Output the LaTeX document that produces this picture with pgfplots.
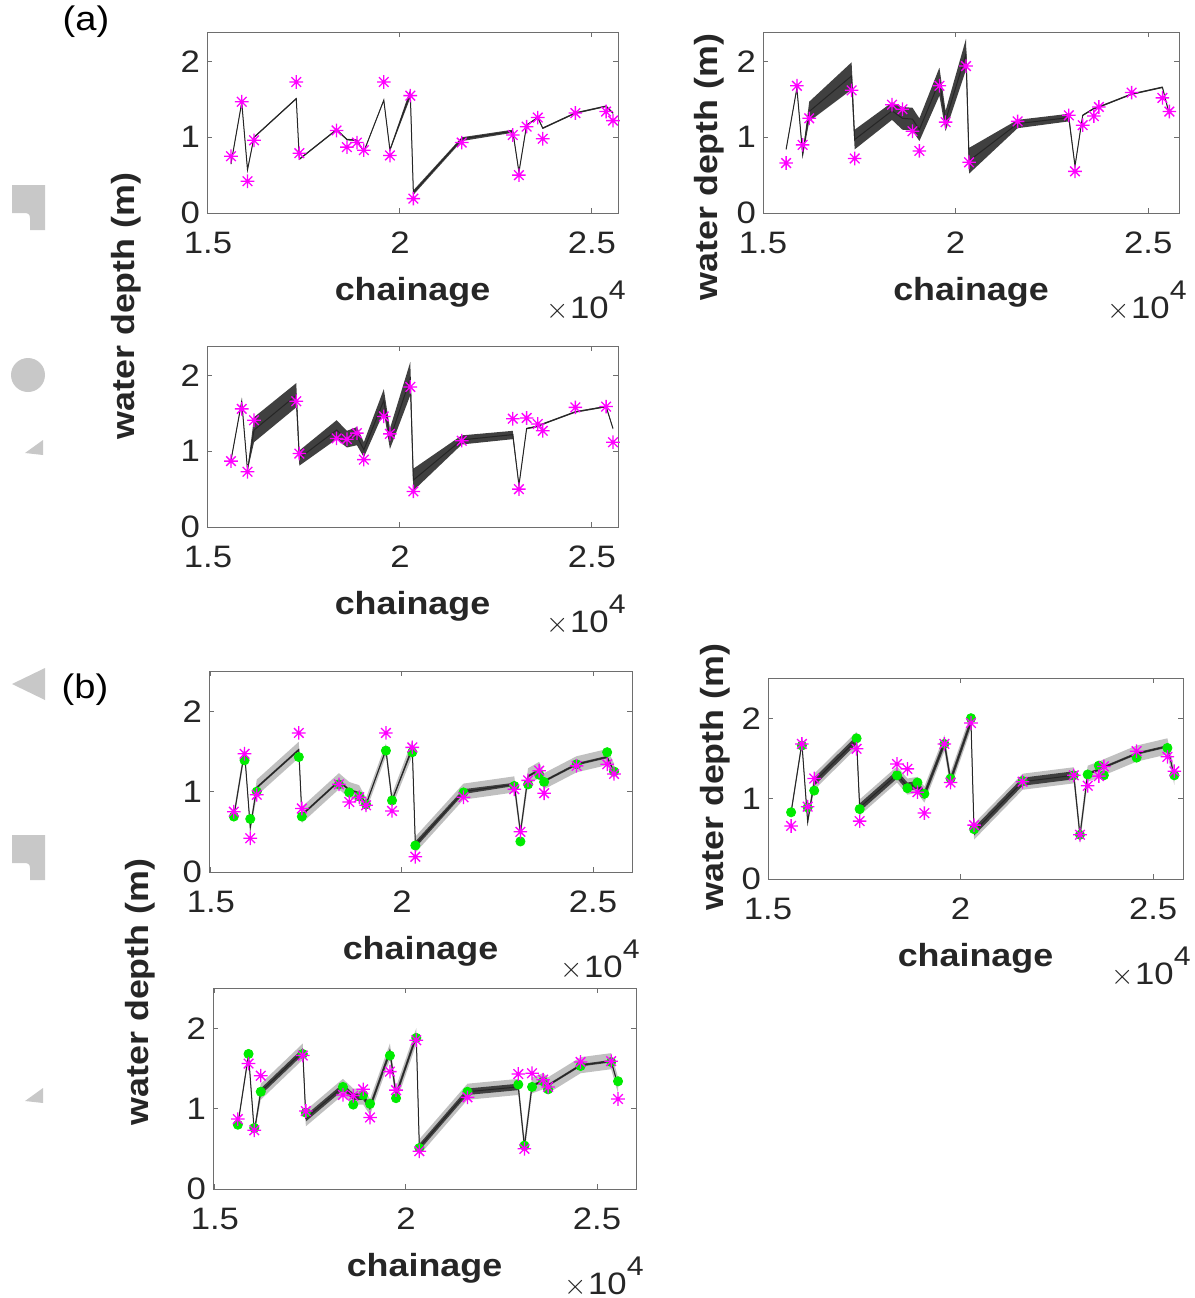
\documentclass[border=0pt]{standalone}
\usepackage{fontspec}
\setmainfont{Liberation Sans}[FakeStretch=1.12]
\usepackage{pgfplots}
\pgfplotsset{compat=1.18}
\usepackage{pgfplotstable}
\usepgfplotslibrary{fillbetween}

\definecolor{mag}{RGB}{255,0,255}
\definecolor{grn}{RGB}{0,235,0}
\definecolor{dband}{RGB}{64,64,64}
\definecolor{lband}{RGB}{192,192,192}
\definecolor{frame}{RGB}{110,110,110}
\definecolor{tcol}{RGB}{38,38,38}
\definecolor{deco}{RGB}{200,200,200}

\newcommand\tickfont{\fontsize{15.5}{18}\selectfont}
\newcommand\labfont{\fontsize{16}{19}\selectfont\bfseries}
\newcommand\tenfour{\tickfont$\times$\kern0.5pt10\raisebox{9.5pt}{\fontsize{13.5}{13.5}\selectfont 4}}

\pgfdeclareplotmark{mstar}{%
  \pgfpathmoveto{\pgfqpoint{-\pgfplotmarksize}{0pt}}\pgfpathlineto{\pgfqpoint{\pgfplotmarksize}{0pt}}%
  \pgfpathmoveto{\pgfqpoint{0pt}{-\pgfplotmarksize}}\pgfpathlineto{\pgfqpoint{0pt}{\pgfplotmarksize}}%
  \pgfpathmoveto{\pgfqpoint{-0.707\pgfplotmarksize}{-0.707\pgfplotmarksize}}\pgfpathlineto{\pgfqpoint{0.707\pgfplotmarksize}{0.707\pgfplotmarksize}}%
  \pgfpathmoveto{\pgfqpoint{-0.707\pgfplotmarksize}{0.707\pgfplotmarksize}}\pgfpathlineto{\pgfqpoint{0.707\pgfplotmarksize}{-0.707\pgfplotmarksize}}%
  \pgfusepathqstroke}

\pgfplotsset{
  panel/.style={
    scale only axis, anchor=south west,
    ymin=0, ytick={0,1,2},
    xtick={15000,20000,25000}, xticklabels={1.5,2,2.5}, scaled x ticks=false,
    tick align=inside, major tick length=2.5pt,
    axis line style={frame, line width=0.5pt},
    tick style={frame, line width=0.5pt},
    tick label style={font=\tickfont, text=tcol},
    xticklabel style={yshift=-6pt},
    /pgf/number format/assume math mode=true,
  },
  obs/.style={only marks, mark=mstar, mark size=3.4pt, color=mag, line width=0.65pt},
  sim/.style={only marks, mark=*, mark size=2.3pt, color=grn, mark options={draw=grn, fill=grn}},
  mline/.style={black!85, line width=0.5pt, no marks},
}

\pgfplotstableread{
x m lo hi obs
15600 0.65 0.64 0.66 0.75
15880 1.46 1.45 1.47 1.47
16030 0.57 0.56 0.58 0.42
16200 1.00 0.99 1.01 0.96
17300 1.51 1.50 1.52 1.73
17380 0.71 0.70 0.72 0.79
18350 1.10 1.09 1.11 1.09
18620 0.97 0.96 0.98 0.87
18880 0.96 0.95 0.97 0.93
19060 0.81 0.80 0.82 0.83
19580 1.49 1.48 1.50 1.73
19740 0.83 0.82 0.85 0.76
20270 1.58 1.52 1.63 1.55
20350 0.27 0.24 0.30 0.19
21610 0.98 0.95 1.00 0.93
22940 1.08 1.06 1.10 1.03
23100 0.54 0.53 0.55 0.50
23300 1.16 1.15 1.17 1.14
23590 1.26 1.25 1.27 1.26
23720 1.12 1.11 1.13 0.98
24570 1.32 1.31 1.33 1.32
25370 1.41 1.40 1.42 1.34
25550 1.32 1.31 1.33 1.22
}\tAa

\pgfplotstableread{
x m lo hi obs
15600 0.84 0.83 0.85 0.66
15880 1.65 1.64 1.66 1.68
16030 0.77 0.74 0.80 0.90
16200 1.34 1.21 1.47 1.25
17300 1.81 1.63 1.99 1.62
17380 0.97 0.84 1.10 0.72
18350 1.35 1.23 1.46 1.43
18620 1.25 1.10 1.40 1.37
18880 1.24 1.09 1.39 1.08
19060 1.10 0.95 1.25 0.82
19580 1.74 1.55 1.92 1.68
19740 1.22 1.08 1.35 1.20
20270 2.10 1.89 2.30 1.94
20350 0.69 0.52 0.86 0.67
21610 1.18 1.12 1.23 1.21
22940 1.26 1.21 1.31 1.29
23100 0.62 0.61 0.63 0.55
23300 1.29 1.28 1.30 1.16
23590 1.38 1.37 1.39 1.28
23720 1.40 1.39 1.41 1.40
24570 1.57 1.56 1.58 1.59
25370 1.66 1.65 1.67 1.52
25550 1.30 1.29 1.31 1.34
}\tAb

\pgfplotstableread{
x m lo hi obs
15600 0.88 0.87 0.89 0.87
15880 1.66 1.65 1.67 1.56
16030 0.75 0.74 0.76 0.73
16200 1.28 1.12 1.45 1.41
17300 1.74 1.58 1.90 1.66
17380 0.91 0.81 1.01 0.97
18350 1.28 1.16 1.41 1.17
18620 1.16 1.05 1.27 1.16
18880 1.20 1.08 1.32 1.24
19060 1.02 0.92 1.12 0.89
19580 1.67 1.52 1.82 1.46
19740 1.16 1.03 1.30 1.23
20270 1.96 1.74 2.18 1.85
20350 0.62 0.48 0.77 0.47
21610 1.15 1.09 1.21 1.14
22940 1.22 1.16 1.27 1.43
23100 0.55 0.54 0.56 0.50
23300 1.30 1.29 1.31 1.44
23590 1.33 1.32 1.34 1.36
23720 1.36 1.35 1.37 1.27
24570 1.52 1.51 1.53 1.58
25370 1.59 1.58 1.60 1.59
25550 1.30 1.29 1.31 1.12
}\tAc

\pgfplotstableread{
x m lo hi lo2 hi2 sim obs
15600 0.69 0.675 0.705 0.63 0.75 0.69 0.75
15880 1.50 1.485 1.515 1.43 1.57 1.39 1.47
16030 0.55 0.535 0.565 0.49 0.61 0.66 0.42
16200 1.05 1.035 1.065 0.95 1.15 1.00 0.96
17300 1.52 1.505 1.535 1.42 1.62 1.43 1.73
17380 0.71 0.695 0.725 0.61 0.81 0.69 0.79
18350 1.13 1.115 1.145 1.03 1.23 1.09 1.09
18620 1.02 1.005 1.035 0.92 1.12 0.99 0.87
18880 0.98 0.965 0.995 0.88 1.08 0.94 0.93
19060 0.84 0.825 0.855 0.76 0.92 0.84 0.83
19580 1.52 1.505 1.535 1.44 1.60 1.51 1.73
19740 0.89 0.875 0.905 0.81 0.97 0.89 0.76
20270 1.54 1.51 1.57 1.44 1.64 1.49 1.55
20350 0.34 0.30 0.38 0.24 0.44 0.33 0.19
21610 1.00 0.97 1.03 0.90 1.10 0.99 0.93
22940 1.09 1.07 1.11 0.99 1.19 1.07 1.03
23100 0.49 0.475 0.505 0.41 0.57 0.38 0.50
23300 1.19 1.175 1.205 1.09 1.29 1.09 1.14
23590 1.27 1.255 1.285 1.17 1.37 1.21 1.26
23720 1.13 1.115 1.145 1.03 1.23 1.12 0.98
24570 1.34 1.325 1.355 1.24 1.44 1.34 1.32
25370 1.43 1.415 1.445 1.33 1.53 1.49 1.34
25550 1.25 1.235 1.265 1.15 1.35 1.25 1.22
}\tBa

\pgfplotstableread{
x m lo hi lo2 hi2 sim obs
15600 0.83 0.815 0.845 0.78 0.88 0.83 0.66
15880 1.69 1.675 1.705 1.64 1.74 1.66 1.68
16030 0.71 0.695 0.725 0.66 0.76 0.89 0.90
16200 1.21 1.16 1.26 1.11 1.31 1.10 1.25
17300 1.73 1.68 1.78 1.63 1.83 1.75 1.62
17380 0.89 0.84 0.94 0.79 0.99 0.87 0.72
18350 1.30 1.25 1.35 1.20 1.40 1.29 1.43
18620 1.15 1.10 1.20 1.05 1.25 1.13 1.37
18880 1.17 1.12 1.22 1.07 1.27 1.20 1.08
19060 1.05 1.00 1.10 0.95 1.15 1.06 0.82
19580 1.69 1.64 1.74 1.59 1.79 1.68 1.68
19740 1.23 1.18 1.28 1.13 1.33 1.25 1.20
20270 1.96 1.91 2.01 1.86 2.06 2.00 1.94
20350 0.59 0.54 0.64 0.49 0.69 0.62 0.67
21610 1.21 1.16 1.26 1.11 1.31 1.22 1.21
22940 1.29 1.24 1.34 1.19 1.39 1.29 1.29
23100 0.54 0.525 0.555 0.44 0.64 0.55 0.55
23300 1.31 1.295 1.325 1.21 1.41 1.30 1.16
23590 1.36 1.345 1.375 1.26 1.46 1.41 1.28
23720 1.39 1.375 1.405 1.29 1.49 1.29 1.40
24570 1.56 1.545 1.575 1.46 1.66 1.51 1.59
25370 1.65 1.635 1.665 1.55 1.75 1.63 1.52
25550 1.27 1.255 1.285 1.17 1.37 1.29 1.34
}\tBb

\pgfplotstableread{
x m lo hi lo2 hi2 sim obs
15600 0.80 0.785 0.815 0.75 0.85 0.80 0.87
15880 1.67 1.655 1.685 1.62 1.72 1.68 1.56
16030 0.71 0.695 0.725 0.66 0.76 0.76 0.73
16200 1.21 1.17 1.25 1.11 1.31 1.21 1.41
17300 1.71 1.67 1.75 1.61 1.81 1.68 1.66
17380 0.88 0.84 0.92 0.78 0.98 0.95 0.97
18350 1.27 1.23 1.31 1.17 1.37 1.27 1.17
18620 1.15 1.11 1.19 1.05 1.25 1.05 1.16
18880 1.15 1.11 1.19 1.05 1.25 1.17 1.24
19060 1.02 0.98 1.06 0.92 1.12 1.06 0.89
19580 1.71 1.67 1.75 1.61 1.81 1.66 1.46
19740 1.17 1.13 1.21 1.07 1.27 1.13 1.23
20270 1.90 1.86 1.94 1.80 2.00 1.88 1.85
20350 0.52 0.48 0.56 0.42 0.62 0.51 0.47
21610 1.21 1.17 1.25 1.11 1.31 1.21 1.14
22940 1.27 1.23 1.31 1.17 1.37 1.30 1.43
23100 0.53 0.515 0.545 0.43 0.63 0.54 0.50
23300 1.29 1.275 1.305 1.19 1.39 1.27 1.44
23590 1.34 1.325 1.355 1.24 1.44 1.34 1.36
23720 1.29 1.275 1.305 1.19 1.39 1.24 1.27
24570 1.54 1.525 1.555 1.44 1.64 1.53 1.58
25370 1.59 1.575 1.605 1.49 1.69 1.58 1.59
25550 1.29 1.275 1.305 1.19 1.39 1.34 1.12
}\tBc

\begin{document}
\begin{tikzpicture}

% decorative grey fragments at the left edge
\begin{scope}[x=0.5pt,y=-0.5pt]
  \fill[deco] (12,185) -- (45,185) -- (45,230) -- (30,230) -- (30,218) .. controls (30,214) and (28,213) .. (24,213) -- (12,213) -- cycle;
  \fill[deco] (28,375) circle[radius=17];
  \fill[deco] (25,453) -- (43,440) -- (43,455) -- cycle;
  \fill[deco] (12,684) -- (45,668) -- (45,700) -- cycle;
  \fill[deco] (12,835) -- (45,835) -- (45,880) -- (30,880) -- (30,868) .. controls (30,864) and (28,863) .. (24,863) -- (12,863) -- cycle;
  \fill[deco] (25,1101) -- (43,1088) -- (43,1103) -- cycle;
\end{scope}

\node[font=\fontsize{17}{20}\selectfont, text=black] at (43pt,-11pt) {(a)};
\node[font=\fontsize{17}{20}\selectfont, text=black] at (42.5pt,-345pt) {(b)};

% ---------- A1 ----------
\begin{axis}[panel, name=a1, at={(103.5pt,-106.5pt)}, width=205.5pt, height=90.5pt,
  xmin=14975, xmax=25680, ymax=2.39]
  \addplot[draw=none, name path=a1lo] table[x=x,y=lo]{\tAa};
  \addplot[draw=none, name path=a1hi] table[x=x,y=hi]{\tAa};
  \addplot[fill=dband, draw=none] fill between[of=a1lo and a1hi];
  \addplot[mline] table[x=x,y=m]{\tAa};
  \addplot[obs] table[x=x,y=obs]{\tAa};
\end{axis}
% ---------- A2 ----------
\begin{axis}[panel, name=a2, at={(381.5pt,-106.5pt)}, width=208pt, height=90.5pt,
  xmin=15000, xmax=25800, ymax=2.39]
  \addplot[draw=none, name path=a2lo] table[x=x,y=lo]{\tAb};
  \addplot[draw=none, name path=a2hi] table[x=x,y=hi]{\tAb};
  \addplot[fill=dband, draw=none] fill between[of=a2lo and a2hi];
  \addplot[mline] table[x=x,y=m]{\tAb};
  \addplot[obs] table[x=x,y=obs]{\tAb};
\end{axis}
% ---------- A3 ----------
\begin{axis}[panel, name=a3, at={(103.5pt,-263.5pt)}, width=205.5pt, height=90.5pt,
  xmin=14975, xmax=25680, ymax=2.39]
  \addplot[draw=none, name path=a3lo] table[x=x,y=lo]{\tAc};
  \addplot[draw=none, name path=a3hi] table[x=x,y=hi]{\tAc};
  \addplot[fill=dband, draw=none] fill between[of=a3lo and a3hi];
  \addplot[mline] table[x=x,y=m]{\tAc};
  \addplot[obs] table[x=x,y=obs]{\tAc};
\end{axis}
% ---------- B1 ----------
\begin{axis}[panel, name=b1, at={(104.5pt,-436pt)}, width=211.5pt, height=100.5pt,
  xmin=14950, xmax=26020, ymax=2.5]
  \addplot[draw=none, name path=b1lo2] table[x=x,y=lo2]{\tBa};
  \addplot[draw=none, name path=b1hi2] table[x=x,y=hi2]{\tBa};
  \addplot[fill=lband, draw=none] fill between[of=b1lo2 and b1hi2];
  \addplot[draw=none, name path=b1lo] table[x=x,y=lo]{\tBa};
  \addplot[draw=none, name path=b1hi] table[x=x,y=hi]{\tBa};
  \addplot[fill=dband, draw=none] fill between[of=b1lo and b1hi];
  \addplot[mline] table[x=x,y=m]{\tBa};
  \addplot[sim] table[x=x,y=sim]{\tBa};
  \addplot[obs] table[x=x,y=obs]{\tBa};
\end{axis}
% ---------- B2 ----------
\begin{axis}[panel, name=b2, at={(384pt,-439.5pt)}, width=207.5pt, height=100.5pt,
  xmin=15000, xmax=25775, ymax=2.5]
  \addplot[draw=none, name path=b2lo2] table[x=x,y=lo2]{\tBb};
  \addplot[draw=none, name path=b2hi2] table[x=x,y=hi2]{\tBb};
  \addplot[fill=lband, draw=none] fill between[of=b2lo2 and b2hi2];
  \addplot[draw=none, name path=b2lo] table[x=x,y=lo]{\tBb};
  \addplot[draw=none, name path=b2hi] table[x=x,y=hi]{\tBb};
  \addplot[fill=dband, draw=none] fill between[of=b2lo and b2hi];
  \addplot[mline] table[x=x,y=m]{\tBb};
  \addplot[sim] table[x=x,y=sim]{\tBb};
  \addplot[obs] table[x=x,y=obs]{\tBb};
\end{axis}
% ---------- B3 ----------
\begin{axis}[panel, name=b3, at={(106.5pt,-594.5pt)}, width=211.5pt, height=100.5pt,
  xmin=14950, xmax=26020, ymax=2.5]
  \addplot[draw=none, name path=b3lo2] table[x=x,y=lo2]{\tBc};
  \addplot[draw=none, name path=b3hi2] table[x=x,y=hi2]{\tBc};
  \addplot[fill=lband, draw=none] fill between[of=b3lo2 and b3hi2];
  \addplot[draw=none, name path=b3lo] table[x=x,y=lo]{\tBc};
  \addplot[draw=none, name path=b3hi] table[x=x,y=hi]{\tBc};
  \addplot[fill=dband, draw=none] fill between[of=b3lo and b3hi];
  \addplot[mline] table[x=x,y=m]{\tBc};
  \addplot[sim] table[x=x,y=sim]{\tBc};
  \addplot[obs] table[x=x,y=obs]{\tBc};
\end{axis}

% x labels and multipliers
\foreach \ax in {a1,a2,a3,b1,b2,b3}{
  \node[font=\labfont, text=tcol] at ([yshift=-39.5pt]\ax.south) {chainage};
  \node[anchor=base east, text=tcol, inner sep=0pt] at ([xshift=4pt,yshift=-52.5pt]\ax.south east) {\tenfour};
}
% y labels
\node[rotate=90, font=\labfont, text=tcol] at (63pt,-153pt) {water depth (m)};
\node[rotate=90, font=\labfont, text=tcol] at (354.5pt,-83.5pt) {water depth (m)};
\node[rotate=90, font=\labfont, text=tcol] at (357.5pt,-388.5pt) {water depth (m)};
\node[rotate=90, font=\labfont, text=tcol] at (70pt,-496pt) {water depth (m)};

\pgfresetboundingbox
\path (0pt,0pt) rectangle (597.5pt,-649pt);
\end{tikzpicture}
\end{document}
